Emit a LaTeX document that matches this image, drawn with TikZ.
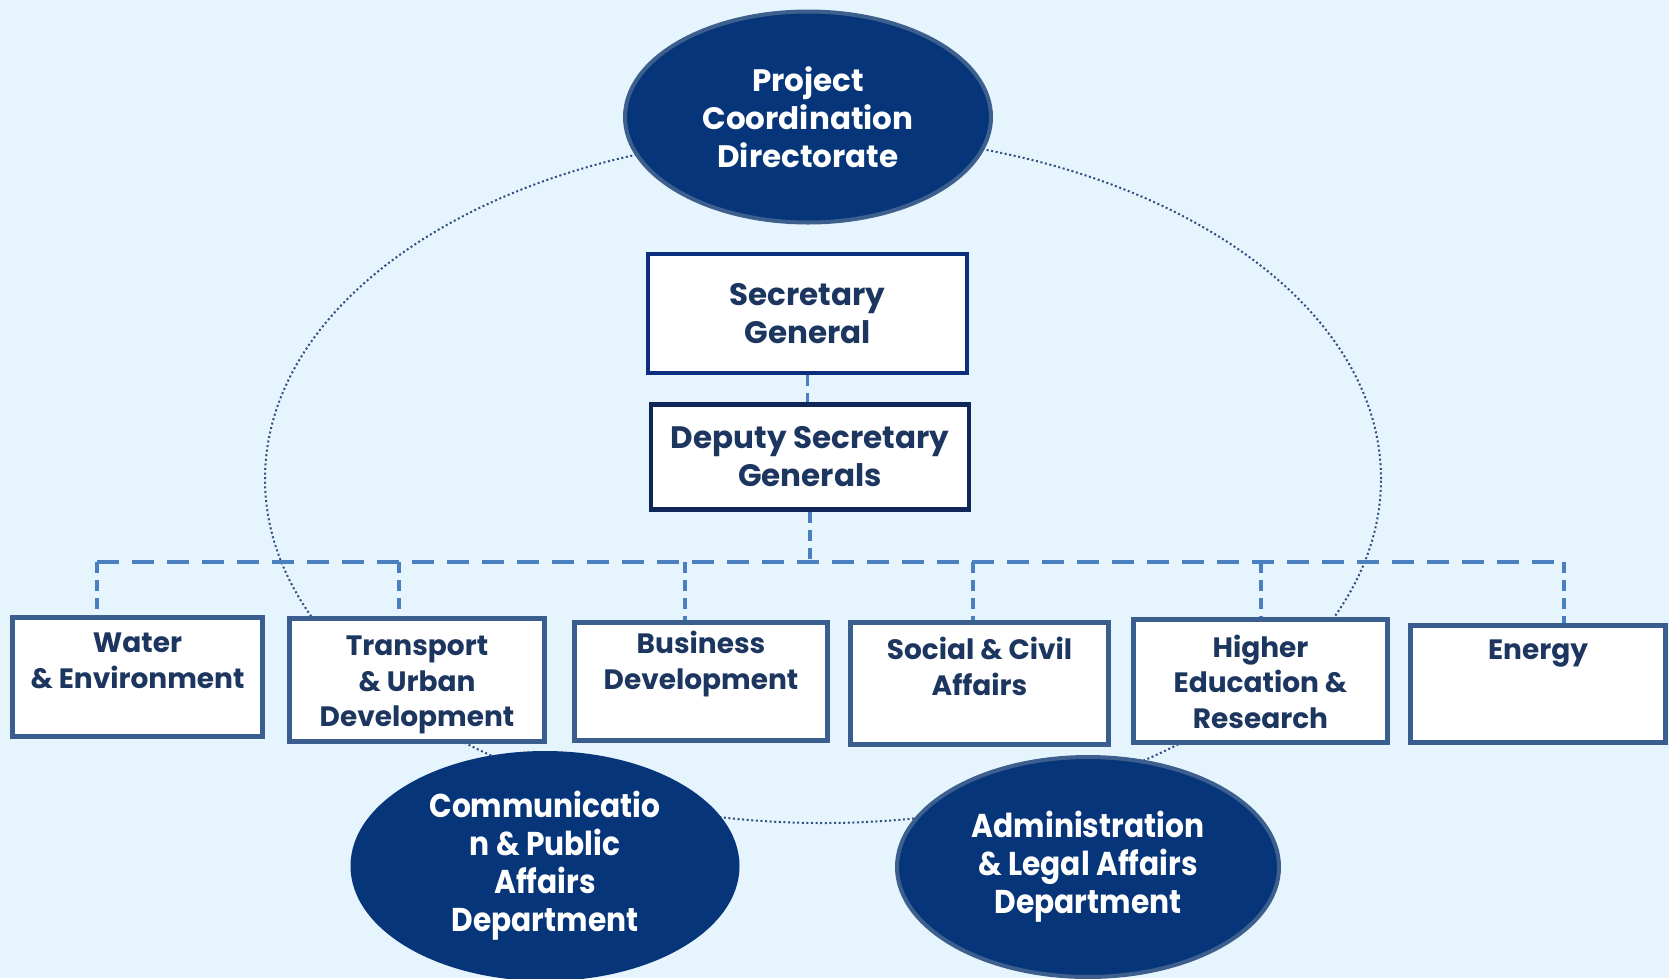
\documentclass[tikz,border=0pt]{standalone}
\usepackage{fontspec}
\setmainfont{Poppins}
\newfontfamily\narrowfont{Poppins}[FakeStretch=0.9]
\usetikzlibrary{shapes.geometric,positioning}

\definecolor{bgblue}{HTML}{E6F4FD}
\definecolor{ovalfill}{HTML}{06357A}
\definecolor{ovalrim}{HTML}{3D5F8E}
\definecolor{sgrim}{HTML}{0B2F7E}
\definecolor{dsgrim}{HTML}{0F2658}
\definecolor{deptrim}{HTML}{3A5F8F}
\definecolor{inkblue}{HTML}{1C3660}
\definecolor{linkblue}{HTML}{4A80C0}
\definecolor{ringblue}{HTML}{30507F}

\newcommand{\depttext}[2][88pt]{\parbox[c][#1][t]{250pt}{\centering #2}}

\tikzset{
  oval/.style={ellipse, fill=ovalfill, draw=ovalrim, line width=4pt,
    inner sep=0pt, text=white, align=center,
    font=\bfseries\fontsize{31}{38}\selectfont},
  headbox/.style={rectangle, fill=white, line width=4.5pt, inner sep=0pt,
    text=inkblue, align=center, font=\bfseries\fontsize{31}{38}\selectfont},
  dept/.style={rectangle, fill=white, draw=deptrim, line width=5pt,
    inner sep=0pt, text=inkblue, font=\bfseries\fontsize{28}{35.5}\selectfont},
  ring/.style={ellipse, draw=ringblue, line width=2pt,
    dash pattern=on 2pt off 2.6pt},
  bus/.style={draw=linkblue, line width=4.5pt, dash pattern=on 22pt off 13pt},
  drop/.style={draw=linkblue, line width=3.2pt, dash pattern=on 11pt off 7pt},
}

\begin{document}
\begin{tikzpicture}[x=1pt, y=-1pt]
  \useasboundingbox (0,0) rectangle (1669,978);
  \clip (0,0) rectangle (1669,978);
  \fill[bgblue] (0,0) rectangle (1669,978);

  % ring round the organisation
  \node[ring, minimum width=1116pt, minimum height=688pt] (orbit) at (823,479) {};

  % head of the chart
  \node[headbox, draw=sgrim, minimum width=319pt, minimum height=119pt] (sg) at (807.5,313.5)
    {Secretary\\ General};
  \node[headbox, draw=dsgrim, minimum width=318pt, minimum height=105pt,
    below=27pt of sg, xshift=2.5pt] (dsg) {Deputy Secretary\\ Generals};

  % departments
  \node[dept, minimum width=248pt, minimum height=119pt] (water) at (137.5,677)
    {\depttext{Water\\ \& Environment}};
  \node[dept, minimum width=255pt, minimum height=123pt] (transport) at (417,680)
    {\depttext{Transport\\ \& Urban\\ Development}};
  \node[dept, minimum width=253pt, minimum height=118pt] (business) at (701,681.5)
    {\depttext[100pt]{Business\\ Development}};
  \node[dept, minimum width=258pt, minimum height=122pt] (social) at (979.5,683.5)
    {\depttext[92pt]{Social \& Civil\\ Affairs}};
  \node[dept, minimum width=254pt, minimum height=123pt] (higher) at (1260.5,681)
    {\depttext[92pt]{Higher\\ Education \&\\ Research}};
  \node[dept, minimum width=255pt, minimum height=117pt] (energy) at (1538,684)
    {\depttext{Energy}};

  % ovals
  \node[oval, minimum width=366pt, minimum height=211pt] (pcd) at (808,117)
    {Project\\ Coordination\\ Directorate};
  \node[oval, draw=ovalfill, minimum width=385pt, minimum height=226pt,
    font=\narrowfont\bfseries\fontsize{33}{38}\selectfont] (comms) at (545,866)
    {Communicatio\\ n \& Public\\ Affairs\\ Department};
  \node[oval, minimum width=382pt, minimum height=220pt,
    font=\narrowfont\bfseries\fontsize{33}{38}\selectfont] (admin) at (1088,867)
    {Administration\\ \& Legal Affairs\\ Department};

  % dashed reporting lines
  \coordinate (bw) at (97,562);
  \coordinate (be) at (1564,562);
  \draw[drop] (sg.south) -- (sg.south |- dsg.north);
  \draw[drop] (dsg.south) -- (dsg.south |- bw);
  \draw[bus] (bw) -- (be);
  \draw[drop] (bw) -- (bw |- water.north);
  \draw[drop] (399,562) coordinate (bt) -- (bt |- transport.north);
  \draw[drop] (685,562) coordinate (bb) -- (bb |- business.north);
  \draw[drop] (973,562) coordinate (bs) -- (bs |- social.north);
  \draw[drop] (1261,562) coordinate (bh) -- (bh |- higher.north);
  \draw[drop] (be) -- (be |- energy.north);
\end{tikzpicture}
\end{document}
